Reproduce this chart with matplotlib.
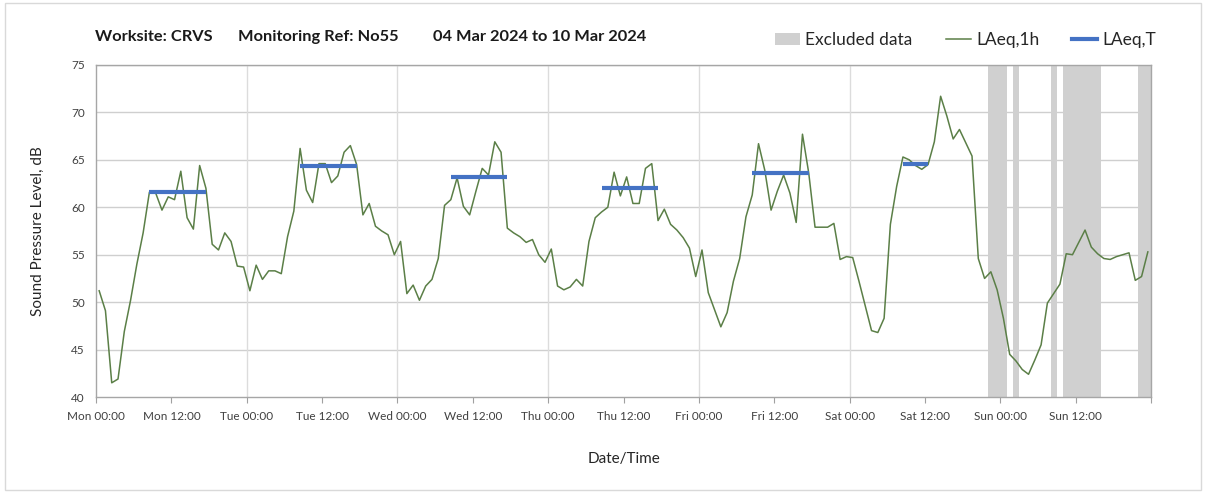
import matplotlib.pyplot as plt
from matplotlib.patches import Patch, Rectangle
from matplotlib.lines import Line2D

plt.rcParams['font.family'] = ['Lato', 'DejaVu Sans']

# hourly LAeq,1h values, Mon 00:00 onwards (168 hours)
laeq_1h = [
    51.2, 49.1, 41.5, 41.9, 46.9, 50.2, 54.0, 57.3, 61.6, 61.5,
    59.7, 61.1, 60.8, 63.8, 58.9, 57.7, 64.4, 62.0, 56.1, 55.5,
    57.3, 56.4, 53.8, 53.7, 51.2, 53.9, 52.4, 53.3, 53.3, 53.0,
    56.9, 59.6, 66.2, 61.8, 60.5, 64.6, 64.6, 62.6, 63.3, 65.8,
    66.5, 64.5, 59.2, 60.4, 58.0, 57.5, 57.1, 55.0, 56.4, 50.9,
    51.8, 50.2, 51.7, 52.4, 54.6, 60.2, 60.8, 63.1, 60.1, 59.2,
    61.7, 64.1, 63.4, 66.9, 65.8, 57.8, 57.3, 56.9, 56.3, 56.6,
    55.0, 54.2, 55.6, 51.7, 51.3, 51.6, 52.4, 51.7, 56.4, 58.9,
    59.5, 60.0, 63.7, 61.2, 63.2, 60.4, 60.4, 64.1, 64.6, 58.6,
    59.8, 58.2, 57.6, 56.8, 55.7, 52.7, 55.5, 51.0, 49.2, 47.4,
    48.9, 52.2, 54.6, 59.0, 61.3, 66.7, 63.9, 59.7, 61.7, 63.4,
    61.5, 58.4, 67.7, 63.6, 57.9, 57.9, 57.9, 58.3, 54.5, 54.8,
    54.7, 52.2, 49.6, 47.0, 46.8, 48.3, 58.2, 62.2, 65.3, 65.0,
    64.4, 64.0, 64.5, 66.9, 71.7, 69.6, 67.2, 68.2, 66.8, 65.4,
    54.6, 52.5, 53.2, 51.3, 48.3, 44.5, 43.8, 42.9, 42.4, 43.9,
    45.5, 49.9, 50.9, 51.9, 55.1, 55.0, 56.3, 57.6, 55.8, 55.1,
    54.6, 54.5, 54.8, 55.0, 55.2, 52.3, 52.7, 55.3,
]

# LAeq,T periods: (start hour, end hour, level)
period_start = [8, 32, 56, 80, 104, 128]
period_end = [18, 42, 66, 90, 114, 133]
period_level = [61.6, 64.4, 63.2, 62.0, 63.6, 64.6]

# excluded data spans (hours)
excl_start = [142, 146, 152, 154, 166]
excl_end = [145, 147, 153, 160, 168]

tick_labels = ['Mon 00:00', 'Mon 12:00', 'Tue 00:00', 'Tue 12:00',
               'Wed 00:00', 'Wed 12:00', 'Thu 00:00', 'Thu 12:00',
               'Fri 00:00', 'Fri 12:00', 'Sat 00:00', 'Sat 12:00',
               'Sun 00:00', 'Sun 12:00']

title_parts = ['Worksite: CRVS', 'Monitoring Ref: No55', '04 Mar 2024 to 10 Mar 2024']
title_x = [95, 238, 433]

fig = plt.figure(figsize=(12.08, 4.92), dpi=100)
ax = fig.add_axes([0.0795, 0.193, 0.8733, 0.675])

# outer border of the chart
fig.patches.append(Rectangle((0.004, 0.004), 0.99, 0.99, transform=fig.transFigure,
                             fill=False, edgecolor='#d9d9d9', linewidth=1))

for s, e in zip(excl_start, excl_end):
    ax.axvspan(s, e, color='#d0d0d0', linewidth=0, zorder=1)

hours = [i + 0.5 for i in range(len(laeq_1h))]
ax.plot(hours, laeq_1h, color='#5b7f47', linewidth=1.1, zorder=3)

for s, e, v in zip(period_start, period_end, period_level):
    ax.plot([s + 0.5, e - 0.5], [v, v], color='#4472c4', linewidth=3, zorder=4,
            solid_capstyle='butt')

ax.set_xlim(0, 168)
ax.set_ylim(40, 75)
ax.set_yticks(range(40, 80, 5))
ax.set_xticks(range(0, 169, 12))
ax.set_xticklabels(tick_labels + [''])
ax.tick_params(axis='both', labelsize=8.5, colors='#404040', length=4, width=0.8)
ax.tick_params(axis='x', pad=6, color='#a0a0a0')
ax.tick_params(axis='y', length=0, pad=8)

for y in range(45, 80, 5):
    ax.axhline(y, color='#cfcfcf', linewidth=1, zorder=0)
for d in range(24, 168, 24):
    ax.axvline(d, color='#dcdcdc', linewidth=1, zorder=0)

for sp in ax.spines.values():
    sp.set_color('#a6a6a6')
    sp.set_linewidth(1)

ax.set_ylabel('Sound Pressure Level, dB', fontsize=11, color='#262626', labelpad=19)
ax.set_xlabel('Date/Time', fontsize=11, color='#262626', labelpad=22)

for txt, x in zip(title_parts, title_x):
    fig.text(x / 1208, 1 - 37 / 492, txt, fontsize=11.8, fontweight='bold',
             color='#1a1a1a', va='center', ha='left')

handles = [Patch(facecolor='#d0d0d0', edgecolor='none', label='Excluded data'),
           Line2D([], [], color='#5b7f47', linewidth=1.1, label='LAeq,1h'),
           Line2D([], [], color='#4472c4', linewidth=3, label='LAeq,T')]
fig.legend(handles=handles, loc='center left', bbox_to_anchor=(775 / 1208, 1 - 40 / 492),
           ncol=3, frameon=False, fontsize=12.5, handlelength=1.45, columnspacing=1.9,
           handletextpad=0.3, borderaxespad=0, borderpad=0, labelcolor='#262626')

fig.savefig('out.png', dpi=100)
